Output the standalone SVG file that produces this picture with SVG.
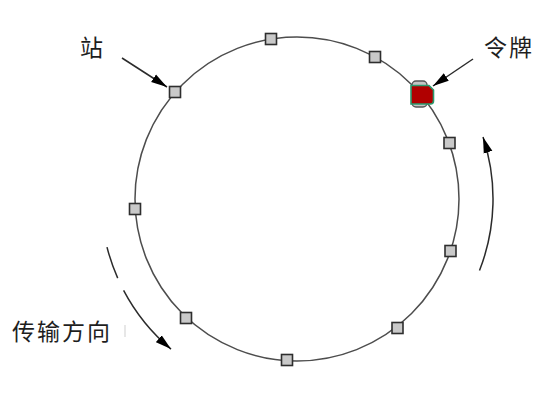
<svg xmlns="http://www.w3.org/2000/svg" width="548" height="402" viewBox="0 0 548 402">
<style>
.ring{fill:none;stroke:#4d4d4d;stroke-width:1.5}
.st{fill:#c9c9c9;stroke:#2e2e2e;stroke-width:1.6}
.conn{fill:none;stroke:#2b2b2b;stroke-width:1.5}
.lbl{font-family:"Noto Sans CJK SC","Noto Sans CJK JP",sans-serif;font-size:23px;fill:#1e1e1e;letter-spacing:2px}
</style>
<defs>
<marker id="ah" markerUnits="userSpaceOnUse" markerWidth="17" markerHeight="10" refX="16" refY="5" orient="auto">
<path d="M0,0.5 L16,5 L0,9.5 z" fill="#000"/>
</marker>
</defs>
<rect width="548" height="402" fill="#fff"/>
<circle class="ring" cx="297" cy="199" r="162"/>
<g id="connectors">
<line class="conn" x1="122" y1="58" x2="167" y2="87" marker-end="url(#ah)"/>
<line class="conn" x1="473" y1="59" x2="433" y2="86" marker-end="url(#ah)"/>
<path class="conn" d="M479.5,270.5 A196,196 0 0 0 483,137.1" marker-end="url(#ah)"/>
<path class="conn" d="M107,247.1 A196,196 0 0 0 117.7,278.1"/>
<path class="conn" d="M123.6,290.3 A196,196 0 0 0 171,349.1" marker-end="url(#ah)"/>
</g>
<g id="station-1"><rect class="st" x="265.5" y="33.5" width="11" height="11"/></g>
<g id="station-2"><rect class="st" x="369.5" y="51.5" width="11" height="11"/></g>
<g id="station-3"><rect class="st" x="444" y="137.5" width="11" height="11"/></g>
<g id="station-4"><rect class="st" x="445" y="245.5" width="11" height="11"/></g>
<g id="station-5"><rect class="st" x="392" y="322.5" width="11" height="11"/></g>
<g id="station-6"><rect class="st" x="281.5" y="354.5" width="11" height="11"/></g>
<g id="station-7"><rect class="st" x="180.5" y="312.5" width="11" height="11"/></g>
<g id="station-8"><rect class="st" x="129.5" y="203.5" width="11" height="11"/></g>
<g id="station-9"><rect class="st" x="169.5" y="86.5" width="11" height="11"/></g>
<g id="token">
<rect x="412" y="81" width="15" height="26" rx="4" fill="#c4c4c4" stroke="#555" stroke-width="1.4"/>
<path d="M411,85.5 L429,85.5 L433.5,90 L433.5,101 Q433.5,104 430.5,104 L411,104 z" fill="#b00000" stroke="#2a9a6e" stroke-width="1.6"/>
</g>
<g id="labels">
<text class="lbl" x="80" y="56">站</text>
<text class="lbl" x="484" y="56">令牌</text>
<text class="lbl" x="12" y="340">传输方向</text>
<line x1="125" y1="325" x2="125" y2="337" stroke="#cfcfcf" stroke-width="1"/>
</g>
</svg>
